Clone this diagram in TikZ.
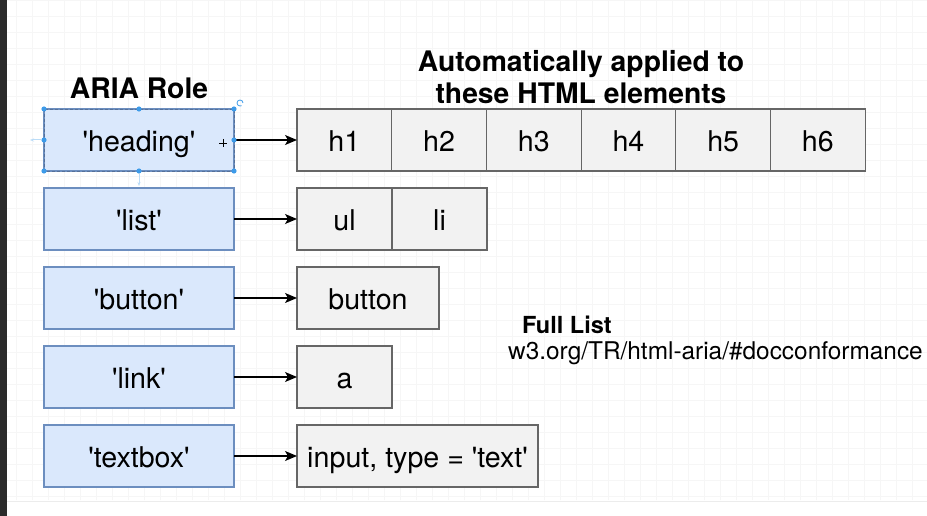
\documentclass[tikz,border=0pt]{standalone}
\usepackage{fontspec}
\setmainfont{TeX Gyre Heros}
\usetikzlibrary{positioning,arrows.meta}

\definecolor{rolefill}{HTML}{DAE8FC}
\definecolor{roleline}{HTML}{6C8EBF}
\definecolor{elemfill}{HTML}{F2F2F2}
\definecolor{elemline}{HTML}{666666}
\definecolor{handle}{HTML}{3D9BE9}
\definecolor{gridline}{HTML}{F6F6F6}
\definecolor{sidebar}{HTML}{2B2B2B}

\newcommand{\qname}[1]{\textquotesingle#1\textquotesingle}

\tikzset{
  role/.style={draw=roleline, fill=rolefill, line width=1.2pt, minimum width=190pt,
    minimum height=62pt, inner sep=0pt, outer sep=0pt, text height=23.4pt, text depth=0pt,
    font=\fontsize{28.6}{32}\selectfont},
  elem/.style={draw=elemline, fill=elemfill, line width=1.2pt, minimum height=62pt,
    inner sep=0pt, outer sep=0pt, text height=23.4pt, text depth=0pt,
    font=\fontsize{28.6}{32}\selectfont},
  maps/.style={-{Stealth[length=12pt,width=10pt,inset=3pt]}, line width=1.3pt},
  heading title/.style={font=\bfseries\fontsize{28.3}{32}\selectfont, inner sep=0pt},
  node distance=0pt
}

\begin{document}
\begin{tikzpicture}[x=1pt,y=-1pt]

% Canvas
\useasboundingbox (0,0) rectangle (927,516);
\fill[white] (0,0) rectangle (927,516);
\draw[gridline, step=16pt] (7,0) grid (927,500);
\fill[sidebar] (0,0) rectangle (7,516);
\draw[gray!15] (7,501) -- (927,501);

% Titles
\node[heading title] (roletitle) at (139,88) {ARIA Role};
\node[heading title, align=center] (elemtitle) at (581,77)
  {Automatically applied to\\these HTML elements};

% Roles
\node[role] (heading) at (139,140) {\qname{heading}};
\node[role] (list)    at (139,219) {\qname{list}};
\node[role] (button)  at (139,298) {\qname{button}};
\node[role] (link)    at (139,377) {\qname{link}};
\node[role] (textbox) at (139,456) {\qname{textbox}};

% HTML elements
\node[elem, minimum width=94.7pt, anchor=west] (h1) at (297,140) {h1};
\node[elem, minimum width=94.7pt, right=of h1] (h2) {h2};
\node[elem, minimum width=94.7pt, right=of h2] (h3) {h3};
\node[elem, minimum width=94.7pt, right=of h3] (h4) {h4};
\node[elem, minimum width=94.7pt, right=of h4] (h5) {h5};
\node[elem, minimum width=94.7pt, right=of h5] (h6) {h6};

\node[elem, minimum width=95pt, anchor=west] (ul) at (297,219) {ul};
\node[elem, minimum width=95pt, right=of ul] (li) {li};

\node[elem, minimum width=142pt, anchor=west] (btn) at (297,298) {button};
\node[elem, minimum width=95pt, anchor=west] (anchor) at (297,377) {a};
\node[elem, minimum width=241pt, anchor=west] (input) at (297,456) {input, type = \qname{text}};

% Connectors
\draw[maps] (heading.east) -- (h1.west);
\draw[maps] (list.east) -- (ul.west);
\draw[maps] (button.east) -- (btn.west);
\draw[maps] (link.east) -- (anchor.west);
\draw[maps] (textbox.east) -- (input.west);

% Full list note
\node[anchor=west, inner sep=0pt, font=\bfseries\fontsize{23.5}{28}\selectfont] (fulllist)
  at (522,325) {Full List};
\node[anchor=west, inner sep=0pt, font=\fontsize{24.4}{28}\selectfont] (specurl)
  at (508,353) {w3.org/TR/html-aria/\#docconformance};

% Selection handles on the heading role
\draw[roleline!80!black, line width=0.6pt, dash pattern=on 3pt off 2pt]
  (heading.north west) rectangle (heading.south east);
\foreach \p in {north west,north,north east,west,east,south west,south,south east}
  \fill[handle] (heading.\p) circle (2.6pt);
\draw[handle, line width=0.8pt] (243,103) arc (0:300:3pt);
\draw[handle!35, line width=1pt, -{Stealth[length=4pt]}] (42,140) -- (30,140);
\draw[handle!35, line width=1pt, -{Stealth[length=4pt]}] (139,174) -- (139,186);
\draw[line width=0.8pt] (219,143) -- (227,143) (223,139) -- (223,147);

\end{tikzpicture}
\end{document}
